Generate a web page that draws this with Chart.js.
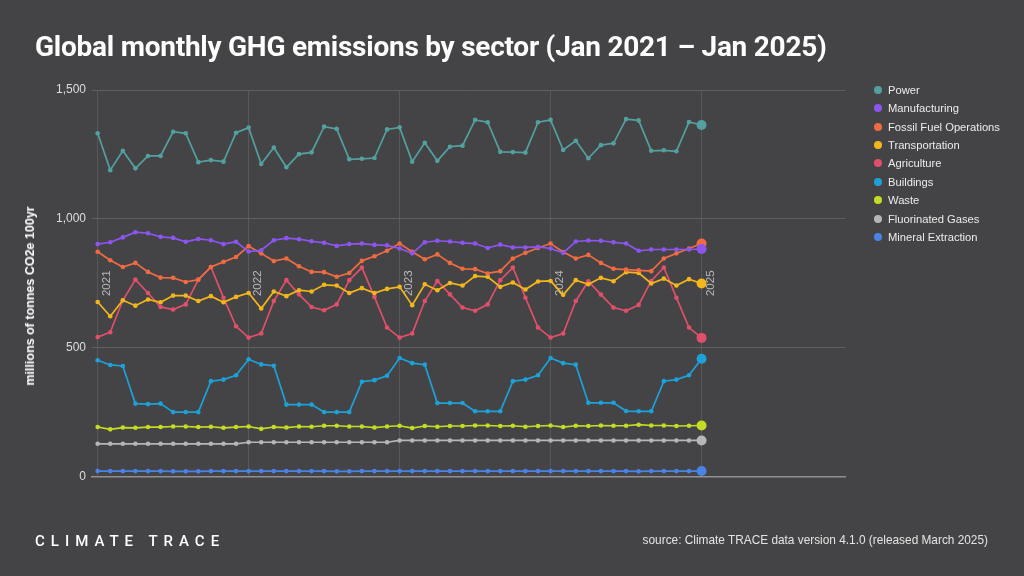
<!DOCTYPE html>
<html>
<head>
<meta charset="utf-8">
<script src="https://cdn.jsdelivr.net/npm/chart.js@4.4.1/dist/chart.umd.min.js"></script>
<style>
  html, body { margin:0; padding:0; background:#444446; }
  #wrap { position:relative; width:1024px; height:576px; background:#444446; overflow:hidden; font-family:"Liberation Sans", Arial, sans-serif; }
  #c { position:absolute; left:0; top:0; }
  #title { position:absolute; left:35px; top:30px; color:#ffffff; font-family:Roboto, "Liberation Sans", sans-serif; font-weight:700; font-size:28px; white-space:nowrap; letter-spacing:-0.25px; }
  #ytitle { position:absolute; left:30px; top:296px; transform:translate(-50%,-50%) rotate(-90deg); color:#ffffff; font-weight:700; font-size:12.5px; white-space:nowrap; }
  #legend { position:absolute; left:874px; top:80.5px; }
  .li { height:18.45px; display:flex; align-items:center; color:#ececec; font-size:11.2px; white-space:nowrap; }
  .dot { width:8px; height:8px; border-radius:50%; margin-right:6px; flex:none; }
  #logo { position:absolute; left:35px; top:532px; color:#ffffff; font-family:Roboto, sans-serif; font-weight:500; font-size:15px; letter-spacing:6px; white-space:nowrap; }
  #source { position:absolute; right:36px; top:533px; color:#e4e4e4; font-size:11.85px; white-space:nowrap; }
</style>
</head>
<body>
<div id="wrap">
  <canvas id="c" width="1024" height="576"></canvas>
  <div id="title">Global monthly GHG emissions by sector (Jan 2021 – Jan 2025)</div>
  <div id="ytitle">millions of tonnes CO2e 100yr</div>
  <div id="legend"></div>
  <div id="logo">CLIMATE TRACE</div>
  <div id="source">source: Climate TRACE data version 4.1.0 (released March 2025)</div>
</div>
<script>
// ---- data (monthly, Jan 2021 .. Jan 2025) ----
const yearLabels = ['2021', '2022', '2023', '2024', '2025'];
const yearIndex = [0, 12, 24, 36, 48];

const power = [1332,1189,1264,1196,1244,1244,1338,1332,1220,1228,1222,1334,
               1354,1213,1277,1200,1251,1258,1358,1349,1231,1233,1236,1347,
               1355,1222,1295,1225,1280,1284,1384,1375,1260,1259,1257,1375,
               1384,1267,1303,1235,1286,1293,1387,1382,1264,1266,1262,1376,
               1364];
const manufacturing = [902,909,928,948,944,930,926,911,922,917,902,911,
                       873,878,917,925,921,913,907,895,902,904,899,897,
                       885,866,909,915,912,907,904,887,900,889,889,891,
                       885,868,912,916,915,909,904,876,881,881,881,881,
                       883];
const fossilFuel = [872,839,813,829,794,772,771,755,764,813,833,852,
                    894,866,836,846,816,794,793,775,790,837,855,876,
                    904,872,843,862,829,806,805,788,797,846,868,887,
                    904,871,846,860,829,806,803,800,797,846,866,885,
                    904];
const transportation = [677,622,684,663,687,676,702,702,681,700,676,697,
                        712,652,718,700,723,718,744,741,712,731,712,728,
                        736,665,746,723,751,741,778,775,736,753,726,757,
                        759,705,762,746,771,758,793,790,749,768,741,766,
                        749];
const agriculture = [541,560,684,764,712,658,648,668,764,813,694,583,
                     539,555,681,762,707,658,645,668,762,811,697,578,
                     539,555,681,759,707,656,643,668,762,811,694,578,
                     539,555,681,758,706,656,643,666,759,811,694,578,
                     538];
const buildings = [451,433,429,283,281,283,250,250,250,370,376,393,
                   455,435,430,279,279,279,250,250,250,368,374,391,
                   460,440,434,285,285,285,253,253,253,370,376,393,
                   460,440,434,286,286,286,254,253,253,370,376,393,
                   457];
const waste = [192,183,190,189,192,192,194,194,192,193,189,192,
               194,185,192,190,194,193,197,197,194,194,190,194,
               197,188,196,193,196,196,198,198,196,197,193,196,
               198,192,197,196,198,197,197,201,198,198,196,197,
               198];
const fluorinated = [127,127,127,127,127,127,127,127,127,127,127,127,
                     133,133,133,133,133,133,133,133,133,133,133,133,
                     140,140,140,140,140,140,140,140,140,140,140,140,
                     140,140,140,140,140,140,140,140,140,140,140,140,
                     140];
const mineral = [21,21,21,21,21,21,20,20,20,21,21,21,
                 21,21,21,21,21,21,21,20,20,21,21,21,
                 21,21,21,21,21,21,21,21,21,21,21,21,
                 21,21,21,21,21,21,21,20,21,21,21,21,
                 21];

const seriesNames = ['Power','Manufacturing','Fossil Fuel Operations','Transportation','Agriculture','Buildings','Waste','Fluorinated Gases','Mineral Extraction'];
const seriesValues = [power, manufacturing, fossilFuel, transportation, agriculture, buildings, waste, fluorinated, mineral];
const seriesColors = ['#54a0a1','#8d55f0','#f06b42','#f3b71c','#e0506a','#1da1d8','#c6db24','#b6b6b8','#4a82e6'];

const yTicks = [0, 500, 1000, 1500];

const datasets = seriesNames.map((name, k) => {
  const vals = seriesValues[k];
  const last = vals.length - 1;
  return {
    label: name,
    data: vals.map((v, i) => ({ x: i, y: v })),
    borderColor: seriesColors[k],
    backgroundColor: seriesColors[k],
    borderWidth: 1.7,
    tension: 0,
    pointRadius: c => c.dataIndex === last ? 5 : 2.3,
    pointHoverRadius: c => c.dataIndex === last ? 5 : 2.3,
    pointBorderWidth: 0,
    fill: false
  };
});

// HTML legend from datasets
const lg = document.getElementById('legend');
datasets.forEach(d => {
  const row = document.createElement('div'); row.className = 'li';
  const dot = document.createElement('span'); dot.className = 'dot'; dot.style.background = d.borderColor;
  const t = document.createElement('span'); t.textContent = d.label;
  row.appendChild(dot); row.appendChild(t); lg.appendChild(row);
});

const yearLabelPlugin = {
  id: 'yearLabels',
  beforeDatasetsDraw(chart) {
    const { ctx, chartArea, scales } = chart;
    const midY = (chartArea.top + chartArea.bottom) / 2;
    ctx.save();
    ctx.fillStyle = '#b9b9bb';
    ctx.font = '11.5px "Liberation Sans", Arial, sans-serif';
    ctx.textAlign = 'center';
    ctx.textBaseline = 'middle';
    yearIndex.forEach((idx, j) => {
      const x = scales.x.getPixelForValue(idx);
      ctx.save();
      ctx.translate(x + 9, midY);
      ctx.rotate(-Math.PI / 2);
      ctx.fillText(yearLabels[j], 0, 0);
      ctx.restore();
    });
    ctx.restore();
  }
};

new Chart(document.getElementById('c'), {
  type: 'line',
  data: { datasets },
  options: {
    responsive: false,
    animation: false,
    events: [],
    layout: { padding: { left: 0, top: 90, right: 179, bottom: 99.5 } },
    plugins: { legend: { display: false }, title: { display: false }, tooltip: { enabled: false } },
    scales: {
      x: {
        type: 'linear',
        min: -0.45,
        max: 59.4,
        afterBuildTicks: s => { s.ticks = yearIndex.map(v => ({ value: v })); },
        afterFit: s => { s.height = 0; },
        ticks: { display: false },
        grid: { color: '#58585a', lineWidth: 1, drawTicks: false },
        border: { display: true, color: '#909092', width: 1.5 }
      },
      y: {
        min: 0,
        max: 1500,
        afterBuildTicks: s => { s.ticks = yTicks.map(v => ({ value: v })); },
        afterFit: s => { s.width = 92; },
        ticks: {
          color: '#dedede',
          padding: 6,
          font: { size: 12, family: '"Liberation Sans", Arial, sans-serif' },
          callback: v => v.toLocaleString('en-US')
        },
        grid: { color: '#5f5f61', lineWidth: 1, drawTicks: false },
        border: { display: false }
      }
    }
  },
  plugins: [yearLabelPlugin]
});
</script>
</body>
</html>
